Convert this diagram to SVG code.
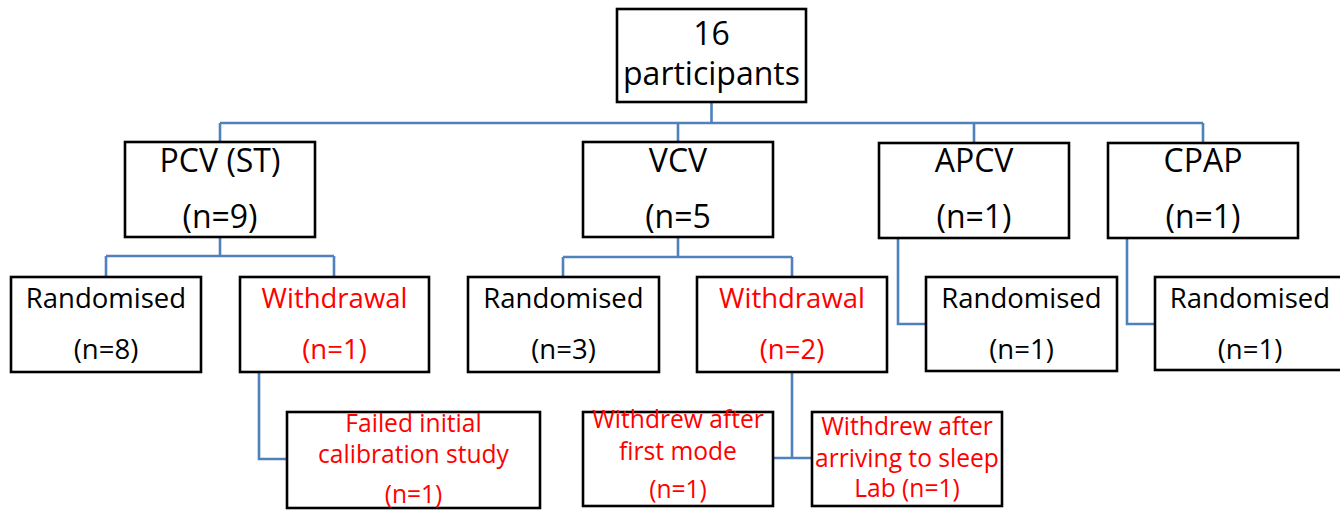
<svg xmlns="http://www.w3.org/2000/svg" width="1340" height="510" viewBox="0 0 1340 510">
<style>
.box{fill:#fff;stroke:#000;stroke-width:2.6}
.con{fill:none;stroke:#4f81bd;stroke-width:2.6}
text{font-family:"Open Sans","Noto Sans","Liberation Sans",sans-serif;text-anchor:middle;fill:#000}
.t0{font-size:32px}
.t1{font-size:32px}
.t2{font-size:27.5px}
.t3{font-size:24.6px}
.red{fill:#ff0000}
</style>
<rect width="1340" height="510" fill="#fff"/>
<g id="connectors">
<path class="con" d="M711.5 102V123M220 123H1203M220 123V142M678 123V142M974 123V143M1203 123V143"/>
<path class="con" d="M220 237V256M106 256H334M106 256V277M334 256V277"/>
<path class="con" d="M678 237V257M563 257H792M563 257V277M792 257V277"/>
<path class="con" d="M898 238V324H926"/>
<path class="con" d="M1127 238V324H1155"/>
<path class="con" d="M259 372V459H287"/>
<path class="con" d="M792 372V458M773 458H812"/>
</g>
<g id="n-participants">
<rect class="box" x="617" y="9" width="189" height="93"/>
<text class="t0" x="711.5" y="45">16</text>
<text class="t0" x="711.5" y="85">participants</text>
</g>
<g id="n-pcv">
<rect class="box" x="125" y="142" width="190" height="95"/>
<text class="t1" x="220" y="172">PCV (ST)</text>
<text class="t1" x="220" y="228">(n=9)</text>
</g>
<g id="n-vcv">
<rect class="box" x="583" y="142" width="190" height="95"/>
<text class="t1" x="678" y="172">VCV</text>
<text class="t1" x="678" y="228">(n=5</text>
</g>
<g id="n-apcv">
<rect class="box" x="879" y="143" width="190" height="95"/>
<text class="t1" x="974" y="172">APCV</text>
<text class="t1" x="974" y="228">(n=1)</text>
</g>
<g id="n-cpap">
<rect class="box" x="1108" y="143" width="190" height="95"/>
<text class="t1" x="1203" y="172">CPAP</text>
<text class="t1" x="1203" y="228">(n=1)</text>
</g>
<g id="n-pcv-rand">
<rect class="box" x="11" y="277" width="190" height="95"/>
<text class="t2" x="106" y="308">Randomised</text>
<text class="t2" x="106" y="359">(n=8)</text>
</g>
<g id="n-pcv-withdrawal">
<rect class="box" x="240" y="277" width="189" height="95"/>
<text class="t2 red" x="334.5" y="308">Withdrawal</text>
<text class="t2 red" x="334.5" y="359">(n=1)</text>
</g>
<g id="n-vcv-rand">
<rect class="box" x="468" y="277" width="191" height="95"/>
<text class="t2" x="563.5" y="308">Randomised</text>
<text class="t2" x="563.5" y="359">(n=3)</text>
</g>
<g id="n-vcv-withdrawal">
<rect class="box" x="697" y="277" width="190" height="95"/>
<text class="t2 red" x="792" y="308">Withdrawal</text>
<text class="t2 red" x="792" y="359">(n=2)</text>
</g>
<g id="n-apcv-rand">
<rect class="box" x="926" y="277" width="191" height="94"/>
<text class="t2" x="1021.5" y="308">Randomised</text>
<text class="t2" x="1021.5" y="359">(n=1)</text>
</g>
<g id="n-cpap-rand">
<rect class="box" x="1155" y="277" width="190" height="93"/>
<text class="t2" x="1250" y="308">Randomised</text>
<text class="t2" x="1250" y="359">(n=1)</text>
</g>
<g id="n-failed">
<rect class="box" x="287" y="412" width="253" height="96"/>
<text class="t3 red" x="413.5" y="432">Failed initial</text>
<text class="t3 red" x="413.5" y="463">calibration study</text>
<text class="t3 red" x="413.5" y="503">(n=1)</text>
</g>
<g id="n-first-mode">
<rect class="box" x="583" y="412" width="190" height="94"/>
<text class="t3 red" x="678" y="428">Withdrew after</text>
<text class="t3 red" x="678" y="460">first mode</text>
<text class="t3 red" x="678" y="498">(n=1)</text>
</g>
<g id="n-sleep-lab">
<rect class="box" x="812" y="412" width="190" height="94"/>
<text class="t3 red" x="907" y="435">Withdrew after</text>
<text class="t3 red" x="907" y="467">arriving to sleep</text>
<text class="t3 red" x="907" y="497">Lab (n=1)</text>
</g>
</svg>
